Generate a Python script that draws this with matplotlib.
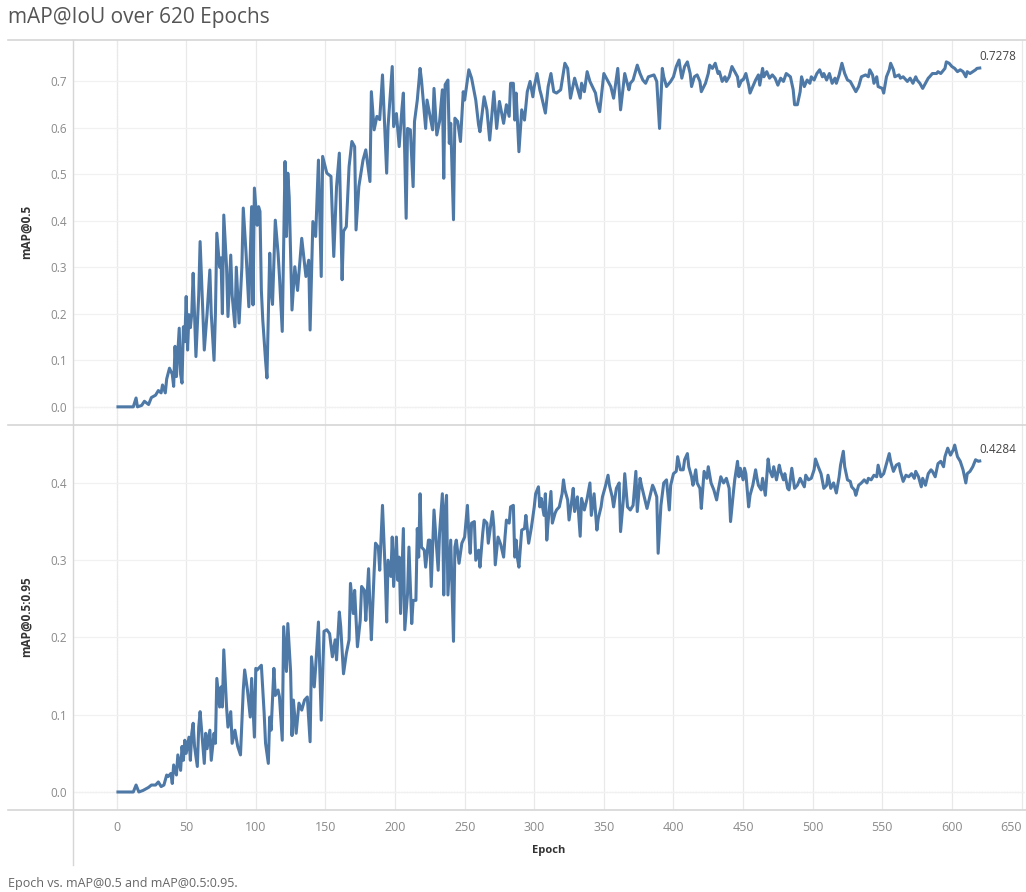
import numpy as np
import matplotlib
matplotlib.use("Agg")
import matplotlib.pyplot as plt
from matplotlib.lines import Line2D

plt.rcParams['font.family'] = ['Open Sans', 'DejaVu Sans']

# ===================== DATA =====================
top_epochs = [
    1, 4, 7, 10, 12, 14, 15, 18, 20, 23,
    25, 28, 30, 32, 33, 35, 36, 38, 40, 41,
    42, 43, 45, 46, 47, 48, 49, 50, 51, 52,
    53, 54, 55, 56, 57, 59, 60, 62, 63, 65,
    67, 68, 70, 71, 72, 74, 75, 76, 77, 79,
    80, 82, 83, 85, 86, 88, 90, 91, 93, 95,
    96, 97, 98, 99, 101, 102, 103, 104, 105, 107,
    108, 110, 111, 112, 114, 116, 117, 119, 121, 122,
    123, 124, 126, 128, 130, 133, 136, 138, 139, 141,
    143, 145, 147, 148, 151, 154, 156, 158, 160, 162,
    163, 165, 167, 169, 171, 172, 174, 177, 179, 182,
    183, 185, 187, 189, 191, 194, 195, 198, 199, 201,
    203, 205, 206, 208, 209, 211, 213, 214, 216, 218,
    219, 222, 223, 225, 227, 228, 230, 232, 234, 235,
    236, 238, 239, 240, 242, 243, 245, 247, 249, 250,
    253, 255, 258, 260, 261, 264, 266, 268, 271, 273,
    275, 278, 280, 282, 283, 285, 286, 287, 289, 291,
    293, 295, 297, 299, 300, 302, 304, 305, 308, 310,
    312, 314, 316, 319, 322, 324, 326, 328, 329, 333,
    334, 336, 338, 340, 344, 345, 347, 350, 353, 355,
    357, 360, 362, 365, 368, 369, 371, 374, 376, 378,
    380, 382, 386, 388, 390, 392, 393, 395, 398, 400,
    402, 404, 405, 406, 408, 410, 412, 413, 415, 417,
    419, 420, 423, 425, 426, 428, 430, 432, 433, 435,
    437, 438, 440, 442, 444, 446, 447, 449, 450, 452,
    454, 455, 457, 459, 461, 462, 464, 465, 467, 469,
    471, 473, 475, 477, 479, 481, 484, 486, 487, 489,
    491, 492, 494, 496, 498, 499, 501, 503, 505, 507,
    508, 510, 512, 514, 516, 517, 519, 521, 523, 525,
    527, 529, 531, 533, 535, 538, 540, 541, 543, 544,
    546, 547, 550, 551, 553, 555, 556, 558, 559, 562,
    563, 565, 568, 570, 572, 574, 575, 577, 579, 581,
    583, 584, 586, 589, 590, 592, 595, 596, 598, 600,
    602, 604, 606, 608, 610, 611, 613, 615, 617, 618,
    620,
]
map50 = [
    0.0, 0.0, 0.0, 0.0, 0.0, 0.019, 0.0, 0.003, 0.012, 0.005,
    0.02, 0.025, 0.035, 0.03, 0.047, 0.03, 0.06, 0.083, 0.07, 0.044,
    0.13, 0.065, 0.169, 0.07, 0.051, 0.172, 0.14, 0.237, 0.122, 0.198,
    0.17, 0.2, 0.287, 0.2, 0.108, 0.24, 0.355, 0.2, 0.122, 0.2,
    0.294, 0.2, 0.1, 0.2, 0.373, 0.3, 0.32, 0.2, 0.412, 0.3,
    0.194, 0.326, 0.24, 0.172, 0.3, 0.18, 0.3, 0.427, 0.33, 0.215,
    0.32, 0.43, 0.219, 0.47, 0.39, 0.43, 0.42, 0.25, 0.187, 0.1,
    0.062, 0.33, 0.25, 0.22, 0.401, 0.33, 0.28, 0.162, 0.527, 0.366,
    0.502, 0.45, 0.208, 0.301, 0.25, 0.362, 0.28, 0.315, 0.165, 0.398,
    0.366, 0.53, 0.28, 0.538, 0.502, 0.495, 0.323, 0.473, 0.545, 0.273,
    0.377, 0.387, 0.516, 0.57, 0.559, 0.38, 0.473, 0.53, 0.552, 0.484,
    0.677, 0.595, 0.624, 0.617, 0.713, 0.502, 0.602, 0.731, 0.602, 0.63,
    0.559, 0.641, 0.674, 0.405, 0.598, 0.595, 0.473, 0.613, 0.659, 0.727,
    0.702, 0.598, 0.659, 0.627, 0.595, 0.684, 0.584, 0.613, 0.681, 0.491,
    0.692, 0.702, 0.566, 0.609, 0.402, 0.62, 0.613, 0.57, 0.677, 0.659,
    0.724, 0.706, 0.659, 0.606, 0.591, 0.666, 0.638, 0.573, 0.677, 0.598,
    0.656, 0.609, 0.649, 0.624, 0.695, 0.695, 0.616, 0.674, 0.548, 0.638,
    0.616, 0.677, 0.699, 0.666, 0.688, 0.716, 0.681, 0.67, 0.631, 0.688,
    0.716, 0.677, 0.674, 0.681, 0.738, 0.727, 0.663, 0.691, 0.706, 0.663,
    0.695, 0.677, 0.72, 0.699, 0.674, 0.656, 0.634, 0.716, 0.699, 0.688,
    0.663, 0.727, 0.638, 0.716, 0.681, 0.695, 0.702, 0.734, 0.716, 0.702,
    0.695, 0.709, 0.713, 0.699, 0.598, 0.727, 0.709, 0.688, 0.699, 0.709,
    0.731, 0.745, 0.724, 0.706, 0.731, 0.741, 0.716, 0.688, 0.709, 0.713,
    0.699, 0.677, 0.695, 0.716, 0.734, 0.727, 0.738, 0.716, 0.72, 0.699,
    0.709, 0.699, 0.709, 0.731, 0.72, 0.709, 0.688, 0.702, 0.702, 0.716,
    0.691, 0.674, 0.688, 0.702, 0.713, 0.691, 0.727, 0.709, 0.72, 0.706,
    0.713, 0.706, 0.691, 0.706, 0.699, 0.716, 0.709, 0.681, 0.649, 0.649,
    0.677, 0.709, 0.688, 0.702, 0.695, 0.709, 0.702, 0.716, 0.724, 0.709,
    0.716, 0.702, 0.716, 0.695, 0.706, 0.695, 0.713, 0.738, 0.716, 0.702,
    0.699, 0.688, 0.677, 0.688, 0.709, 0.713, 0.709, 0.724, 0.713, 0.695,
    0.709, 0.688, 0.684, 0.674, 0.709, 0.724, 0.738, 0.724, 0.709, 0.713,
    0.706, 0.709, 0.699, 0.706, 0.695, 0.709, 0.702, 0.695, 0.684, 0.695,
    0.706, 0.709, 0.716, 0.716, 0.72, 0.716, 0.727, 0.741, 0.738, 0.731,
    0.727, 0.72, 0.724, 0.72, 0.709, 0.72, 0.716, 0.72, 0.724, 0.727,
    0.7278,
]

bot_epochs = [
    1, 4, 7, 10, 12, 14, 16, 19, 23, 25,
    28, 30, 32, 34, 36, 37, 39, 40, 41, 43,
    44, 46, 47, 48, 49, 50, 52, 53, 54, 55,
    56, 58, 59, 60, 62, 63, 64, 65, 67, 68,
    70, 71, 72, 74, 75, 76, 77, 79, 80, 82,
    83, 85, 87, 89, 91, 92, 94, 96, 97, 99,
    100, 101, 103, 104, 106, 107, 109, 110, 111, 113,
    114, 116, 117, 119, 120, 122, 123, 125, 126, 127,
    129, 131, 133, 135, 137, 139, 140, 142, 143, 145,
    147, 149, 151, 153, 155, 157, 158, 160, 161, 163,
    165, 167, 168, 170, 171, 173, 175, 176, 178, 179,
    181, 182, 183, 185, 186, 188, 189, 191, 193, 194,
    195, 197, 198, 199, 201, 202, 203, 204, 206, 207,
    209, 210, 212, 213, 215, 216, 217, 218, 219, 221,
    222, 224, 225, 226, 228, 230, 231, 232, 234, 235,
    236, 237, 238, 240, 242, 243, 244, 246, 248, 250,
    252, 253, 254, 255, 257, 258, 260, 261, 263, 264,
    266, 267, 270, 271, 272, 274, 276, 278, 279, 280,
    282, 283, 285, 286, 287, 288, 289, 291, 293, 294,
    296, 298, 300, 301, 303, 304, 305, 307, 308, 309,
    310, 312, 313, 315, 316, 318, 320, 321, 322, 324,
    325, 327, 328, 329, 331, 333, 334, 336, 338, 340,
    341, 343, 345, 346, 348, 349, 351, 353, 354, 356,
    357, 359, 361, 362, 364, 365, 367, 369, 371, 373,
    374, 376, 377, 379, 381, 383, 385, 386, 388, 389,
    391, 393, 395, 397, 398, 400, 402, 403, 405, 407,
    408, 410, 411, 413, 414, 416, 417, 419, 420, 422,
    424, 425, 427, 429, 431, 432, 434, 436, 438, 440,
    441, 443, 444, 446, 447, 448, 450, 451, 452, 454,
    455, 457, 459, 460, 461, 463, 464, 466, 468, 469,
    471, 472, 474, 476, 477, 479, 480, 482, 483, 485,
    487, 489, 491, 492, 494, 495, 497, 499, 501, 502,
    504, 506, 508, 510, 511, 513, 515, 517, 519, 520,
    522, 523, 525, 527, 528, 530, 531, 533, 535, 537,
    539, 540, 542, 544, 546, 547, 549, 551, 553, 555,
    556, 558, 560, 562, 563, 565, 567, 569, 571, 573,
    574, 576, 578, 579, 581, 583, 585, 586, 588, 590,
    592, 594, 595, 597, 599, 601, 602, 604, 606, 608,
    610, 611, 613, 615, 617, 619, 620,
]
map50_95 = [
    0.0, 0.0, 0.0, 0.0, 0.0, 0.009, 0.0, 0.002, 0.006, 0.009,
    0.009, 0.013, 0.007, 0.009, 0.022, 0.02, 0.024, 0.011, 0.035, 0.022,
    0.048, 0.028, 0.059, 0.041, 0.067, 0.05, 0.071, 0.041, 0.076, 0.089,
    0.059, 0.033, 0.084, 0.104, 0.059, 0.037, 0.076, 0.056, 0.08, 0.041,
    0.076, 0.063, 0.147, 0.11, 0.136, 0.11, 0.184, 0.11, 0.084, 0.104,
    0.063, 0.08, 0.059, 0.048, 0.132, 0.158, 0.132, 0.097, 0.147, 0.071,
    0.16, 0.158, 0.162, 0.164, 0.102, 0.063, 0.037, 0.097, 0.08, 0.16,
    0.125, 0.132, 0.123, 0.067, 0.214, 0.156, 0.218, 0.156, 0.073, 0.119,
    0.076, 0.115, 0.106, 0.119, 0.123, 0.065, 0.175, 0.136, 0.162, 0.22,
    0.093, 0.208, 0.21, 0.205, 0.175, 0.197, 0.171, 0.233, 0.214, 0.153,
    0.179, 0.197, 0.27, 0.231, 0.261, 0.188, 0.222, 0.266, 0.261, 0.222,
    0.289, 0.24, 0.197, 0.285, 0.322, 0.317, 0.287, 0.371, 0.283, 0.22,
    0.3, 0.279, 0.33, 0.266, 0.33, 0.274, 0.304, 0.231, 0.341, 0.21,
    0.257, 0.317, 0.218, 0.248, 0.248, 0.341, 0.304, 0.386, 0.317, 0.313,
    0.291, 0.326, 0.326, 0.266, 0.365, 0.313, 0.287, 0.335, 0.386, 0.255,
    0.365, 0.384, 0.255, 0.326, 0.195, 0.317, 0.326, 0.296, 0.322, 0.33,
    0.371, 0.335, 0.309, 0.348, 0.35, 0.3, 0.313, 0.291, 0.335, 0.352,
    0.348, 0.322, 0.363, 0.343, 0.294, 0.33, 0.32, 0.304, 0.33, 0.352,
    0.348, 0.369, 0.371, 0.304, 0.326, 0.302, 0.291, 0.339, 0.341, 0.358,
    0.322, 0.343, 0.369, 0.386, 0.395, 0.369, 0.38, 0.358, 0.386, 0.326,
    0.35, 0.389, 0.348, 0.361, 0.365, 0.369, 0.386, 0.404, 0.391, 0.378,
    0.352, 0.378, 0.393, 0.363, 0.382, 0.331, 0.38, 0.365, 0.38, 0.4,
    0.358, 0.386, 0.339, 0.354, 0.369, 0.382, 0.395, 0.41, 0.397, 0.382,
    0.369, 0.393, 0.4, 0.337, 0.378, 0.412, 0.369, 0.365, 0.371, 0.415,
    0.363, 0.406, 0.397, 0.382, 0.367, 0.382, 0.397, 0.393, 0.382, 0.309,
    0.371, 0.4, 0.404, 0.365, 0.397, 0.412, 0.415, 0.434, 0.417, 0.417,
    0.43, 0.438, 0.421, 0.408, 0.397, 0.417, 0.4, 0.393, 0.367, 0.415,
    0.406, 0.421, 0.4, 0.391, 0.378, 0.389, 0.408, 0.4, 0.406, 0.393,
    0.35, 0.387, 0.404, 0.428, 0.408, 0.419, 0.404, 0.419, 0.412, 0.369,
    0.384, 0.397, 0.417, 0.406, 0.397, 0.391, 0.406, 0.384, 0.431, 0.417,
    0.408, 0.421, 0.404, 0.423, 0.415, 0.404, 0.412, 0.393, 0.391, 0.419,
    0.393, 0.397, 0.406, 0.402, 0.395, 0.41, 0.404, 0.406, 0.417, 0.431,
    0.421, 0.412, 0.393, 0.397, 0.41, 0.393, 0.4, 0.387, 0.408, 0.423,
    0.441, 0.421, 0.404, 0.402, 0.395, 0.391, 0.384, 0.397, 0.4, 0.404,
    0.4, 0.406, 0.404, 0.41, 0.408, 0.423, 0.408, 0.412, 0.425, 0.438,
    0.428, 0.415, 0.423, 0.425, 0.415, 0.402, 0.41, 0.408, 0.412, 0.406,
    0.415, 0.408, 0.395, 0.406, 0.397, 0.412, 0.417, 0.415, 0.408, 0.425,
    0.428, 0.421, 0.434, 0.445, 0.436, 0.443, 0.449, 0.434, 0.428, 0.417,
    0.4, 0.412, 0.415, 0.421, 0.43, 0.428, 0.4284,
]

x_ticks = list(range(0, 651, 50))
top_yticks = [0.0, 0.1, 0.2, 0.3, 0.4, 0.5, 0.6, 0.7]
bot_yticks = [0.0, 0.1, 0.2, 0.3, 0.4]

title = "mAP@IoU over 620 Epochs"
footer = "Epoch vs. mAP@0.5 and mAP@0.5:0.95."
# =====================================================================

W, H = 1026, 892
line_color = "#4e79a7"
frame_color = "#d6d6d6"
tick_color = "#8a8a8a"


def fx(px):
    return px / W


def fy(py):
    return 1 - py / H


fig = plt.figure(figsize=(W / 100, H / 100), dpi=100)

pane_left, pane_right = 73, 1025
ax_top = fig.add_axes([fx(pane_left), fy(425), fx(pane_right - pane_left), (425 - 40) / H])
ax_bot = fig.add_axes([fx(pane_left), fy(810), fx(pane_right - pane_left), (810 - 425) / H])

panes = [
    (ax_top, top_epochs, map50, top_yticks, (-0.039, 0.788), "mAP@0.5", 232, "0.7278"),
    (ax_bot, bot_epochs, map50_95, bot_yticks, (-0.0233, 0.475), "mAP@0.5:0.95", 617, "0.4284"),
]

for ax, xs, ys, yt, ylim, ylab, ylab_y, last_lbl in panes:
    ax.plot(xs, ys, color=line_color, lw=2.2, solid_joinstyle="round", zorder=3)
    ax.set_xlim(-31.3, 652.5)
    ax.set_ylim(*ylim)
    ax.set_yticks(yt)
    ax.set_yticklabels([f"{v:.1f}" for v in yt])
    ax.set_xticks(x_ticks)
    ax.grid(True, axis="x", color="#e9e9e9", lw=0.9, zorder=0)
    ax.grid(True, axis="y", color="#f1f1f1", lw=0.9, zorder=0)
    ax.axhline(0, color="#b5b5b5", lw=0.8, ls=(0, (1, 1.5)), zorder=1)
    ax.axvline(0, color="#d8d8d8", lw=0.8, ls=(0, (1, 1.5)), zorder=1)
    for s in ax.spines.values():
        s.set_visible(False)
    ax.tick_params(axis="both", length=0, colors=tick_color, labelsize=8.5)
    ax.tick_params(axis="y", pad=4.5)
    ax.annotate(last_lbl, (xs[-1], ys[-1]), xytext=(0, 8), textcoords="offset points",
                ha="left", va="center", fontsize=8.5, color="#444444")
    fig.text(fx(26), fy(ylab_y), ylab, rotation=90, ha="center", va="center",
             fontsize=8.5, fontweight="bold", color="#333333")

ax_top.tick_params(axis="x", labelbottom=False)
ax_bot.tick_params(axis="x", pad=8, labelsize=9)
for lbl in ax_bot.get_xticklabels():
    if lbl.get_text() == "650":
        lbl.set_horizontalalignment("right")

# Tableau-like frame lines
for py in (40, 425, 810):
    fig.add_artist(Line2D([fx(8), fx(1026)], [fy(py), fy(py)], color=frame_color, lw=1.2))
fig.add_artist(Line2D([fx(73), fx(73)], [fy(40), fy(865)], color=frame_color, lw=1.0))

fig.text(fx(549), fy(851), "Epoch", ha="center", va="center", fontsize=8,
         fontweight="bold", color="#333333")
fig.text(fx(8), fy(18), title, ha="left", va="center", fontsize=15, color="#555555")
fig.text(fx(8), fy(883), footer, ha="left", va="center", fontsize=9, color="#666666")

fig.savefig("out.png", dpi=100, facecolor="white")
